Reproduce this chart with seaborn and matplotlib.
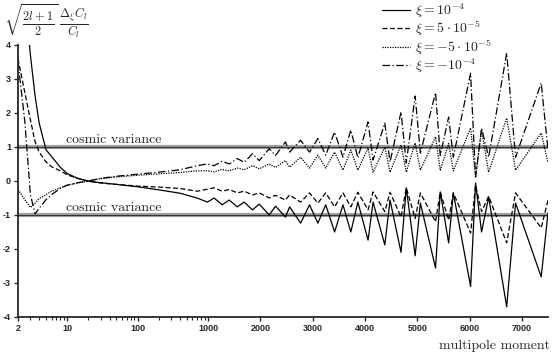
import matplotlib

matplotlib.use("Agg")
import matplotlib.pyplot as plt
import numpy as np
import seaborn as sns

# multipole grid: log part up to ~1000, then the oscillating part
ell_low = [2, 2.5, 3, 3.5, 4, 5, 6, 8, 10, 14, 20, 30, 50, 100, 200, 400, 700]
ell_high = [980, 1115, 1270, 1405, 1560, 1690, 1850, 1980, 2170, 2290, 2480, 2560,
            2770, 2940, 3100, 3250, 3420, 3580, 3730, 3865, 4060, 4155, 4380, 4480,
            4690, 4790, 4960, 5060, 5350, 5440, 5600, 5690, 6020, 6115, 6230, 6365,
            6710, 6880, 7370, 7500]
ell = ell_low + ell_high

# xi = 1e-4 (solid)
xi_p1e4 = [9.0, 5.5, 3.7, 2.5, 1.7, 0.92, 0.72, 0.4, 0.22, 0.08, -0.01, -0.05, -0.1,
           -0.17, -0.26, -0.36, -0.5,
           -0.62, -0.5, -0.7, -0.56, -0.76, -0.62, -0.85, -0.68, -1.0, -0.74, -1.06, -0.76,
           -1.24, -0.7, -1.24, -0.7, -1.5, -0.7, -1.5, -0.62, -1.74, -0.62, -1.88, -0.56,
           -2.1, -0.2, -2.2, -0.65, -2.56, -0.32, -1.82, -0.35, -3.1, -0.06, -1.5, -0.47,
           -3.7, -0.65, -2.82, -0.94]
# xi = 5e-5 (dashed)
xi_p5e5 = [3.6, 2.6, 1.8, 1.15, 0.85, 0.56, 0.42, 0.3, 0.18, 0.08, 0.0, -0.06, -0.1,
           -0.15, -0.18, -0.22, -0.3,
           -0.24, -0.2, -0.3, -0.25, -0.35, -0.3, -0.41, -0.35, -0.5, -0.42, -0.56, -0.41,
           -0.62, -0.35, -0.65, -0.35, -0.76, -0.35, -0.76, -0.33, -0.85, -0.32, -0.9, -0.33,
           -1.06, -0.2, -1.1, -0.35, -1.2, -0.32, -1.15, -0.35, -1.53, -0.12, -0.9, -0.45,
           -1.82, -0.35, -1.38, -0.56]
# xi = -5e-5 (dotted)
xi_m5e5 = [-0.25, -0.55, -0.78, -0.65, -0.52, -0.4, -0.3, -0.2, -0.13, -0.06, 0.0, 0.07,
           0.12, 0.17, 0.21, 0.25, 0.3,
           0.3, 0.27, 0.34, 0.3, 0.38, 0.33, 0.45, 0.36, 0.5, 0.4, 0.6, 0.41,
           0.7, 0.38, 0.76, 0.38, 0.85, 0.32, 0.91, 0.32, 0.97, 0.26, 1.0, 0.26,
           1.06, 0.26, 1.12, 0.32, 1.3, 0.32, 1.1, 0.3, 1.56, 0.1, 1.5, 0.26,
           1.85, 0.32, 1.41, 0.53]
# xi = -1e-4 (dash-dot)
xi_m1e4 = [3.5, 1.75, -0.4, -0.97, -0.8, -0.55, -0.4, -0.22, -0.12, -0.05, 0.0, 0.08,
           0.14, 0.2, 0.26, 0.33, 0.45,
           0.5, 0.45, 0.58, 0.5, 0.66, 0.55, 0.8, 0.6, 0.95, 0.75, 1.15, 0.85,
           1.2, 0.85, 1.25, 0.76, 1.44, 0.7, 1.5, 0.68, 1.74, 0.62, 1.7, 0.56,
           2.03, 0.53, 2.5, 0.82, 2.6, 0.75, 1.88, 0.7, 3.17, 0.12, 1.56, 0.7,
           3.76, 0.7, 2.88, 0.91]

series = [
    (xi_p1e4, r"$\xi = 10^{-4}$", "-"),
    (xi_p5e5, r"$\xi = 5\cdot 10^{-5}$", (0, (4, 2))),
    (xi_m5e5, r"$\xi = -5\cdot 10^{-5}$", (0, (1, 1))),
    (xi_m1e4, r"$\xi = -10^{-4}$", (0, (6, 2, 1, 2))),
]

K = 52.0 / 70.0 / 1000.0


def fwd(x):
    x = np.asarray(x, dtype=float)
    return np.where(x <= 1000, np.log10(np.clip(x, 1e-3, None)), 3 + (x - 1000) * K)


def inv(y):
    y = np.asarray(y, dtype=float)
    return np.where(y <= 3, 10 ** np.minimum(y, 3), 1000 + (y - 3) / K)


sns.set_style("ticks")
plt.rcParams["mathtext.fontset"] = "cm"

fig = plt.figure(figsize=(5.53, 3.56), dpi=100)
ax = fig.add_axes([18 / 553, 1 - 317 / 356, 530 / 553, 272 / 356])

for vals, label, style in series:
    sns.lineplot(x=ell, y=vals, ax=ax, color="black", linewidth=0.9,
                 linestyle=style, label=label, sort=False)

for yv in (1, -1):
    ax.axhline(yv, color="#a0a0a0", linewidth=3, zorder=1)
    ax.axhline(yv, color="#333333", linewidth=0.8, zorder=1)

ax.text(45, 1.04, "cosmic variance", family="cmr10", fontsize=10, ha="center", va="bottom")
ax.text(45, -0.96, "cosmic variance", family="cmr10", fontsize=10, ha="center", va="bottom")

ax.set_xscale("function", functions=(fwd, inv))
ax.set_xlim(2, 7500)
ax.set_ylim(-4, 4)
major = [2, 10, 100, 1000, 2000, 3000, 4000, 5000, 6000, 7000]
ax.set_xticks(major)
ax.set_xticklabels([str(m) for m in major])
minor = [m * d for d in (1, 10, 100) for m in range(2, 10) if 2 < m * d < 1000 and m * d not in (10, 100)]
ax.set_xticks(minor, minor=True)
ax.set_yticks(range(-4, 5))
ax.set_yticklabels([str(v) for v in range(-4, 5)])
for lab in ax.get_xticklabels() + ax.get_yticklabels():
    lab.set_family("Liberation Sans")
    lab.set_fontweight("bold")
    lab.set_fontsize(6.5)
ax.tick_params(axis="both", which="major", length=3, width=1, pad=2)
ax.tick_params(axis="x", which="minor", length=2, width=0.8)
sns.despine(ax=ax)
for sp in ("left", "bottom"):
    ax.spines[sp].set_linewidth(1.3)

ax.legend(loc="upper left", bbox_to_anchor=(364 / 530, 1 + 44 / 272), frameon=False,
          fontsize=10, handlelength=2.0, handletextpad=0.35, labelspacing=-0.05,
          borderaxespad=0, borderpad=0)

fig.text(0.008, 0.998, r"$\sqrt{\frac{2l+1}{2}}\,\frac{\Delta_\xi C_l}{C_l}$",
         fontsize=12.5, ha="left", va="top")
fig.text(0.995, 0.01, "multipole moment", family="cmr10", fontsize=10,
         ha="right", va="bottom")

fig.savefig("out.png", dpi=100)
